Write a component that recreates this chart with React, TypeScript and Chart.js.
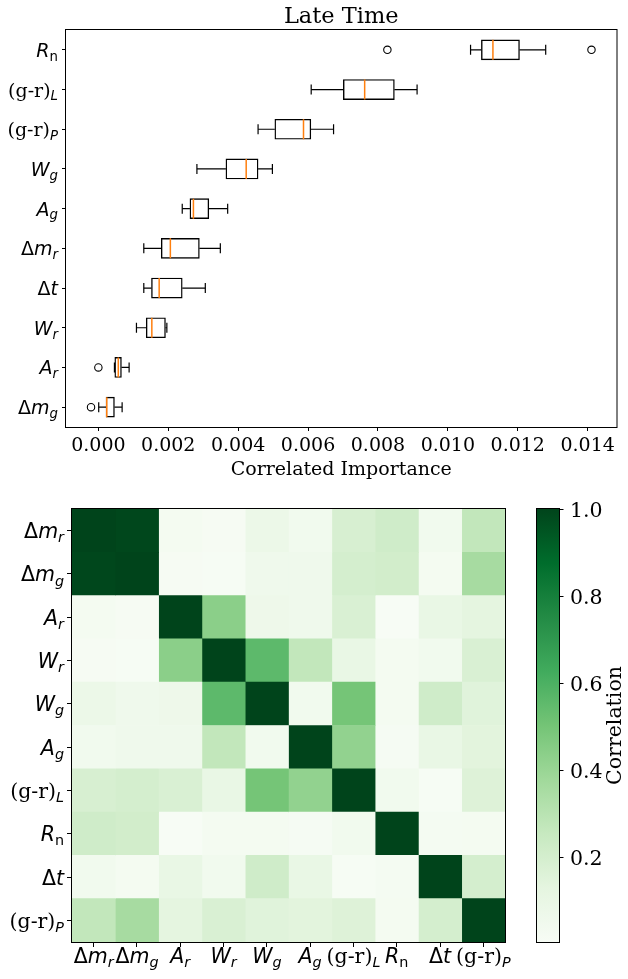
import React, { useEffect, useRef } from 'react';
import { Chart, registerables } from 'chart.js';

Chart.register(...registerables);

const SERIF = "'DejaVu Serif', serif";
const SANS = "'DejaVu Sans', sans-serif";

// ---- Late-time correlated importance (box plot), listed top to bottom ----
const boxFeatures = ['R_n', '(g-r)_L', '(g-r)_P', 'W_g', 'A_g', 'Δm_r', 'Δt', 'W_r', 'A_r', 'Δm_g'];
const whiskerLow = [0.01065, 0.00609, 0.00457, 0.00282, 0.0024, 0.0013, 0.0013, 0.00109, 0.00046, 0.00001];
const quartile1 = [0.01096, 0.00701, 0.00505, 0.00365, 0.00262, 0.0018, 0.00152, 0.00137, 0.00047, 0.00022];
const medians = [0.01129, 0.00762, 0.00587, 0.00423, 0.00272, 0.00206, 0.00174, 0.00153, 0.00057, 0.00024];
const quartile3 = [0.01205, 0.00847, 0.00608, 0.00457, 0.00316, 0.00289, 0.0024, 0.00192, 0.00066, 0.00046];
const whiskerHigh = [0.0128, 0.00912, 0.00673, 0.00498, 0.0037, 0.00349, 0.00306, 0.00196, 0.00088, 0.00068];
const outlierFeature = ['R_n', 'R_n', 'A_r', 'Δm_g'];
const outlierValue = [0.00827, 0.01411, 0.0, -0.00021];
const importanceTicks = [0, 0.002, 0.004, 0.006, 0.008, 0.01, 0.012, 0.014];

// ---- Feature correlation matrix ----
const corrFeatures = ['Δm_r', 'Δm_g', 'A_r', 'W_r', 'W_g', 'A_g', '(g-r)_L', 'R_n', 'Δt', '(g-r)_P'];
const correlation = [
  [1.0, 0.99, 0.03, 0.015, 0.08, 0.05, 0.19, 0.22, 0.05, 0.27],
  [0.99, 1.0, 0.015, 0.012, 0.06, 0.06, 0.2, 0.21, 0.03, 0.36],
  [0.03, 0.015, 1.0, 0.44, 0.07, 0.06, 0.18, 0.006, 0.1, 0.13],
  [0.015, 0.012, 0.44, 1.0, 0.56, 0.27, 0.1, 0.03, 0.05, 0.18],
  [0.08, 0.06, 0.07, 0.56, 1.0, 0.05, 0.5, 0.03, 0.22, 0.15],
  [0.05, 0.06, 0.06, 0.27, 0.05, 1.0, 0.42, 0.02, 0.1, 0.14],
  [0.19, 0.2, 0.18, 0.1, 0.5, 0.42, 1.0, 0.05, 0.01, 0.16],
  [0.22, 0.21, 0.006, 0.03, 0.03, 0.02, 0.05, 1.0, 0.025, 0.03],
  [0.05, 0.03, 0.1, 0.05, 0.22, 0.1, 0.01, 0.025, 1.0, 0.2],
  [0.27, 0.36, 0.13, 0.18, 0.15, 0.14, 0.16, 0.03, 0.2, 1.0],
];
const colorbarTicks = [0.2, 0.4, 0.6, 0.8, 1.0];

// Greens colormap stops
const GREENS = ['#f7fcf5', '#e5f5e0', '#c7e9c0', '#a1d99b', '#74c476', '#41ab5d', '#238b45', '#006d2c', '#00441b'];
const hexRgb = (h: string) => [1, 3, 5].map((k) => parseInt(h.slice(k, k + 2), 16));
function greens(t: number): string {
  const c = Math.max(0, Math.min(1, t)) * 8;
  const i = Math.min(7, Math.floor(c));
  const f = c - i;
  const a = hexRgb(GREENS[i]);
  const b = hexRgb(GREENS[i + 1]);
  const m = a.map((v, k) => Math.round(v + (b[k] - v) * f));
  return `rgb(${m[0]},${m[1]},${m[2]})`;
}
const vMin = Math.min(...correlation.flat());
const vMax = 1;
const norm = (v: number) => (v - vMin) / (vMax - vMin);

// Labels such as "W_g" are drawn as a base with a smaller subscript.
type Seg = { text: string; font: string; dy: number };
function labelSegments(label: string, size: number): Seg[] {
  const [base, sub] = label.split('_');
  const segs: Seg[] = [];
  if (base.startsWith('(')) {
    segs.push({ text: base, font: `${size}px ${SERIF}`, dy: 0 });
  } else {
    for (const ch of base) {
      segs.push({ text: ch, font: `${ch === 'Δ' ? '' : 'italic '}${size}px ${SANS}`, dy: 0 });
    }
  }
  if (sub) {
    segs.push({ text: sub, font: `${sub === 'n' ? '' : 'italic '}${size * 0.7}px ${SANS}`, dy: size * 0.2 });
  }
  return segs;
}
function drawLabel(ctx: CanvasRenderingContext2D, label: string, x: number, y: number, size: number, align: 'right' | 'center') {
  const segs = labelSegments(label, size);
  ctx.save();
  ctx.fillStyle = '#000';
  ctx.textAlign = 'left';
  ctx.textBaseline = 'alphabetic';
  const widths = segs.map((s) => {
    ctx.font = s.font;
    return ctx.measureText(s.text).width;
  });
  const total = widths.reduce((p, w) => p + w, 0);
  let cx = align === 'right' ? x - total : x - total / 2;
  segs.forEach((s, i) => {
    ctx.font = s.font;
    ctx.fillText(s.text, cx, y + s.dy);
    cx += widths[i];
  });
  ctx.restore();
}
function frame(ctx: CanvasRenderingContext2D, a: { left: number; top: number; right: number; bottom: number }) {
  ctx.save();
  ctx.strokeStyle = '#000';
  ctx.lineWidth = 1;
  ctx.strokeRect(a.left - 0.5, a.top - 0.5, a.right - a.left + 1, a.bottom - a.top + 1);
  ctx.restore();
}

const tickGrid = (len: number) => ({
  display: true,
  drawOnChartArea: false,
  drawTicks: true,
  tickLength: len,
  offset: false,
  color: '#000',
  tickColor: '#000',
  tickWidth: 1,
});

function importanceConfig(): any {
  const idx = boxFeatures.map((_, i) => i);
  const whiskers: any[] = [];
  idx.forEach((i) => {
    const f = boxFeatures[i];
    whiskers.push({ x: whiskerLow[i], y: f }, { x: quartile1[i], y: f }, { x: null, y: f });
    whiskers.push({ x: quartile3[i], y: f }, { x: whiskerHigh[i], y: f }, { x: null, y: f });
  });
  return {
    type: 'bar',
    data: {
      labels: boxFeatures,
      datasets: [
        {
          type: 'scatter',
          data: idx.map((i) => ({ x: medians[i], y: boxFeatures[i] })),
          pointStyle: 'line',
          rotation: 90,
          radius: 10,
          borderColor: '#ff7f0e',
          borderWidth: 1.5,
          order: 0,
        },
        {
          type: 'scatter',
          data: [
            ...idx.map((i) => ({ x: whiskerLow[i], y: boxFeatures[i] })),
            ...idx.map((i) => ({ x: whiskerHigh[i], y: boxFeatures[i] })),
          ],
          pointStyle: 'line',
          rotation: 90,
          radius: 5,
          borderColor: '#000',
          borderWidth: 1.2,
          order: 1,
        },
        {
          type: 'scatter',
          data: outlierValue.map((v, k) => ({ x: v, y: outlierFeature[k] })),
          pointStyle: 'circle',
          radius: 3.7,
          borderColor: '#000',
          backgroundColor: 'rgba(0,0,0,0)',
          borderWidth: 1.1,
          order: 1,
        },
        {
          type: 'line',
          data: whiskers,
          borderColor: '#000',
          borderWidth: 1.2,
          pointRadius: 0,
          spanGaps: false,
          order: 2,
        },
        {
          type: 'bar',
          data: idx.map((i) => [quartile1[i], quartile3[i]]),
          backgroundColor: '#fff',
          borderColor: '#000',
          borderWidth: 1.4,
          borderSkipped: false,
          barThickness: 20,
          order: 3,
        },
      ],
    },
    options: {
      indexAxis: 'y',
      responsive: false,
      animation: false,
      events: [],
      layout: { padding: { left: 56, top: 30, right: 1, bottom: 0 } },
      plugins: { legend: { display: false }, tooltip: { enabled: false }, title: { display: false } },
      scales: {
        x: {
          type: 'linear',
          min: -0.000926,
          max: 0.014826,
          ticks: { display: false },
          afterBuildTicks: (s: any) => {
            s.ticks = importanceTicks.map((v) => ({ value: v }));
          },
          afterFit: (s: any) => {
            s.height = 63;
          },
          grid: tickGrid(4),
          border: { display: false },
        },
        y: {
          type: 'category',
          offset: true,
          ticks: { display: false },
          afterFit: (s: any) => {
            s.width = 10;
          },
          grid: tickGrid(4),
          border: { display: false },
        },
      },
    },
    plugins: [
      {
        id: 'importanceText',
        afterDraw(chart: any) {
          const { ctx, chartArea: a, scales } = chart;
          frame(ctx, a);
          ctx.save();
          ctx.fillStyle = '#000';
          ctx.textAlign = 'center';
          ctx.textBaseline = 'alphabetic';
          ctx.font = `22.5px ${SERIF}`;
          ctx.fillText('Late Time', (a.left + a.right) / 2, 22.5);
          ctx.font = `19px ${SERIF}`;
          importanceTicks.forEach((v) => ctx.fillText(v.toFixed(3), scales.x.getPixelForValue(v), 451));
          ctx.fillText('Correlated Importance', (a.left + a.right) / 2, 475);
          ctx.restore();
          boxFeatures.forEach((f, i) => drawLabel(ctx, f, a.left - 8, scales.y.getPixelForValue(i) + 7, 19, 'right'));
        },
      },
    ],
  };
}

function heatmapConfig(): any {
  return {
    type: 'bar',
    data: {
      labels: corrFeatures,
      datasets: corrFeatures.map((_, j) => ({
        data: corrFeatures.map(() => [j, j + 1]),
        backgroundColor: corrFeatures.map((__, i) => greens(norm(correlation[i][j]))),
        borderWidth: 0,
        barPercentage: 1,
        categoryPercentage: 1,
        grouped: false,
      })),
    },
    options: {
      indexAxis: 'y',
      responsive: false,
      animation: false,
      events: [],
      layout: { padding: { left: 62, top: 19, right: 15, bottom: 27 } },
      plugins: { legend: { display: false }, tooltip: { enabled: false } },
      scales: {
        x: {
          type: 'linear',
          min: 0,
          max: corrFeatures.length,
          ticks: { display: false },
          afterBuildTicks: (s: any) => {
            s.ticks = corrFeatures.map((_, j) => ({ value: j + 0.5 }));
          },
          afterFit: (s: any) => {
            s.height = 10;
          },
          grid: tickGrid(5),
          border: { display: false },
        },
        y: {
          type: 'category',
          offset: true,
          ticks: { display: false },
          afterFit: (s: any) => {
            s.width = 10;
          },
          grid: tickGrid(5),
          border: { display: false },
        },
      },
    },
    plugins: [
      {
        id: 'heatmapText',
        afterDraw(chart: any) {
          const { ctx, chartArea: a, scales } = chart;
          frame(ctx, a);
          corrFeatures.forEach((f, i) => drawLabel(ctx, f, a.left - 8, scales.y.getPixelForValue(i) + 7.5, 20.5, 'right'));
          corrFeatures.forEach((f, j) => drawLabel(ctx, f, scales.x.getPixelForValue(j + 0.5), 473, 20.5, 'center'));
        },
      },
    ],
  };
}

function colorbarConfig(): any {
  return {
    type: 'bar',
    data: {
      labels: ['Correlation'],
      datasets: [
        {
          data: [[vMin, vMax]],
          backgroundColor: (c: any) => {
            const a = c.chart.chartArea;
            if (!a) return GREENS[0];
            const g = c.chart.ctx.createLinearGradient(0, a.bottom, 0, a.top);
            GREENS.forEach((col, k) => g.addColorStop(k / 8, col));
            return g;
          },
          borderWidth: 0,
          barPercentage: 1,
          categoryPercentage: 1,
        },
      ],
    },
    options: {
      responsive: false,
      animation: false,
      events: [],
      layout: { padding: { left: 17, top: 19, right: 65, bottom: 37 } },
      plugins: { legend: { display: false }, tooltip: { enabled: false } },
      scales: {
        x: { type: 'category', display: false },
        y: {
          type: 'linear',
          position: 'right',
          min: vMin,
          max: vMax,
          ticks: { display: false },
          afterBuildTicks: (s: any) => {
            s.ticks = colorbarTicks.map((v) => ({ value: v }));
          },
          afterFit: (s: any) => {
            s.width = 4;
          },
          grid: tickGrid(4.5),
          border: { display: false },
        },
      },
    },
    plugins: [
      {
        id: 'colorbarText',
        afterDraw(chart: any) {
          const { ctx, chartArea: a, scales } = chart;
          frame(ctx, a);
          ctx.save();
          ctx.fillStyle = '#000';
          ctx.font = `20.5px ${SERIF}`;
          ctx.textAlign = 'left';
          ctx.textBaseline = 'alphabetic';
          colorbarTicks.forEach((v) => ctx.fillText(v.toFixed(1), a.right + 11, scales.y.getPixelForValue(v) + 7.5));
          ctx.translate(96, (a.top + a.bottom) / 2);
          ctx.rotate(-Math.PI / 2);
          ctx.textAlign = 'center';
          ctx.textBaseline = 'middle';
          ctx.fillText('Correlation', 0, 0);
          ctx.restore();
        },
      },
    ],
  };
}

export default function App() {
  const topRef = useRef<HTMLCanvasElement>(null);
  const heatRef = useRef<HTMLCanvasElement>(null);
  const barRef = useRef<HTMLCanvasElement>(null);

  useEffect(() => {
    const charts = [
      new Chart(topRef.current as HTMLCanvasElement, importanceConfig()),
      new Chart(heatRef.current as HTMLCanvasElement, heatmapConfig()),
      new Chart(barRef.current as HTMLCanvasElement, colorbarConfig()),
    ];
    return () => charts.forEach((c) => c.destroy());
  }, []);

  return (
    <div style={{ position: 'absolute', left: 0, top: 0, width: 628, height: 979, background: '#fff' }}>
      <canvas ref={topRef} width={628} height={490} style={{ position: 'absolute', left: 0, top: 0 }} />
      <canvas ref={heatRef} width={520} height={489} style={{ position: 'absolute', left: 0, top: 490 }} />
      <canvas ref={barRef} width={108} height={489} style={{ position: 'absolute', left: 520, top: 490 }} />
    </div>
  );
}
